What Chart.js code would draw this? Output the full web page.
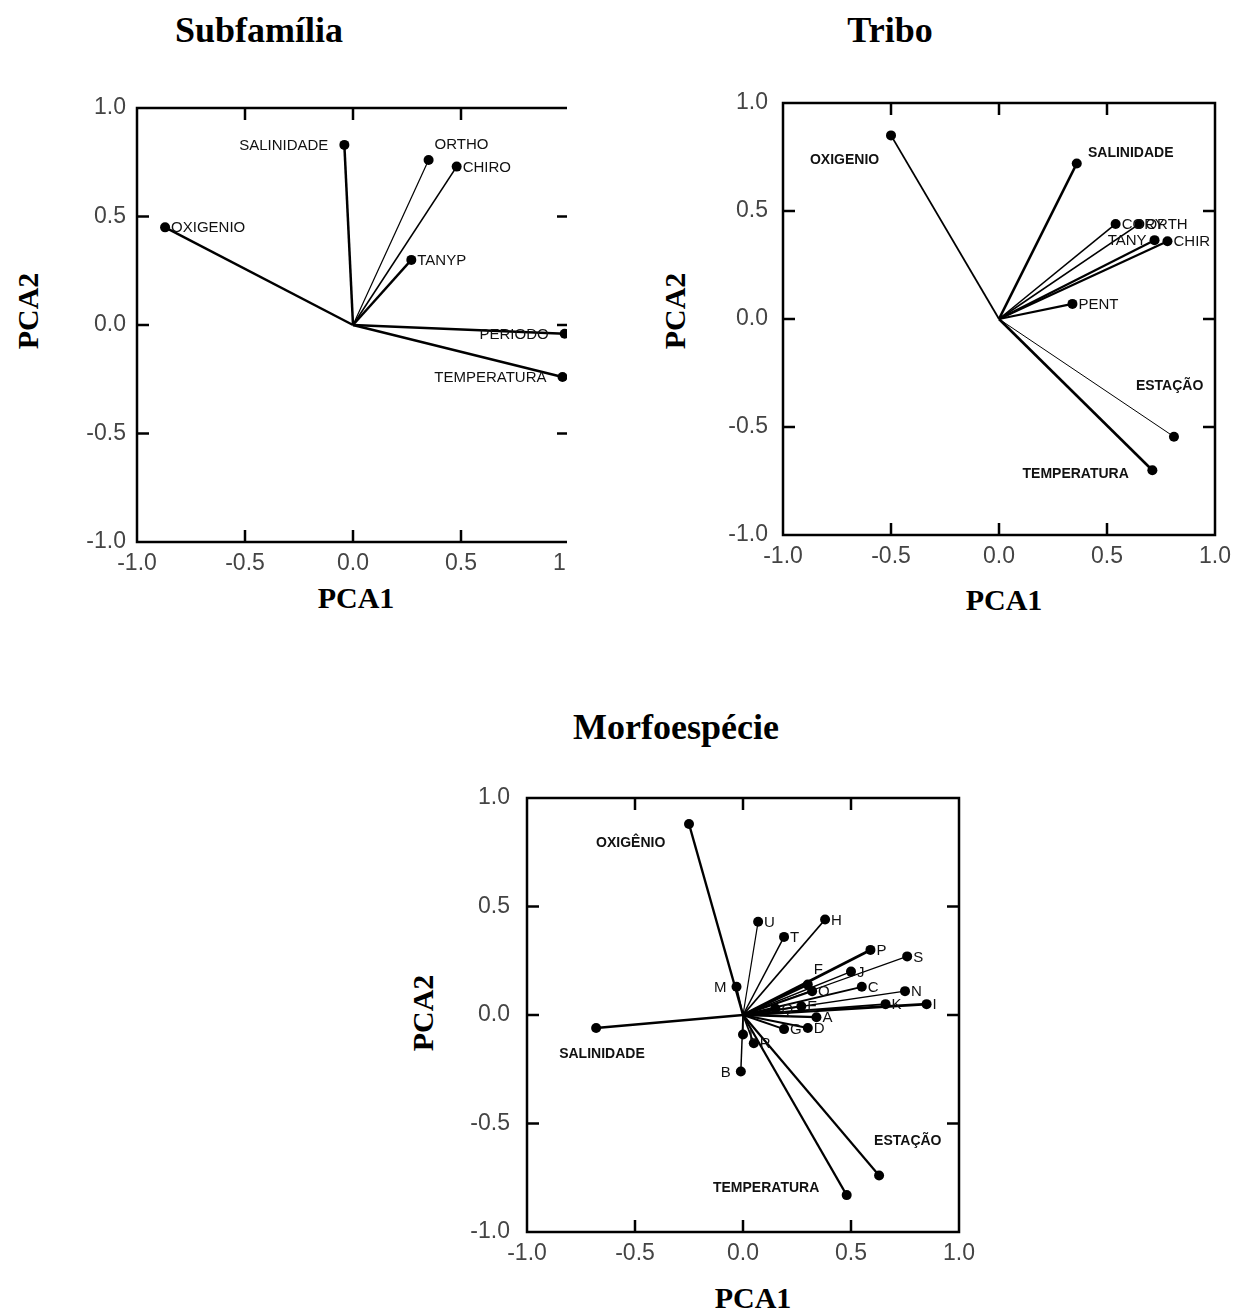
<!DOCTYPE html>
<html>
<head>
<meta charset="utf-8">
<script src="https://cdn.jsdelivr.net/npm/chart.js@4.4.1/dist/chart.umd.min.js"></script>
<style>
body { margin: 0; width: 1242px; height: 1314px; background: #fff; position: relative; overflow: hidden; font-family: "Liberation Serif", "Times New Roman", serif; }
.tit { position: absolute; font-weight: bold; font-size: 36px; transform: translate(-50%, -50%); white-space: nowrap; }
.ax { position: absolute; font-weight: bold; font-size: 30px; transform: translate(-50%, -50%); white-space: nowrap; }
.ax.v { transform: translate(-50%, -50%) rotate(-90deg); }
.box { position: absolute; overflow: hidden; }
</style>
</head>
<body>
<div class="tit" style="left:259px;top:30px">Subfamília</div>
<div class="tit" style="left:890px;top:30px">Tribo</div>
<div class="tit" style="left:676px;top:727px">Morfoespécie</div>

<div class="ax v" style="left:28px;top:311px">PCA2</div>
<div class="ax" style="left:356px;top:598px">PCA1</div>
<div class="ax v" style="left:675px;top:311px">PCA2</div>
<div class="ax" style="left:1004px;top:600px">PCA1</div>
<div class="ax v" style="left:423px;top:1013px">PCA2</div>
<div class="ax" style="left:753px;top:1298px">PCA1</div>

<div class="box" style="left:0;top:60px;width:567px;height:540px"><canvas id="c1" width="600" height="540"></canvas></div>
<div class="box" style="left:620px;top:60px;width:622px;height:540px"><canvas id="c2" width="622" height="540"></canvas></div>
<div class="box" style="left:400px;top:760px;width:620px;height:520px"><canvas id="c3" width="620" height="520"></canvas></div>

<script>
// Eixos
const valoresEixo = [-1, -0.5, 0, 0.5, 1];

// Subfamília
const subNomes = ['OXIGENIO', 'SALINIDADE', 'ORTHO', 'CHIRO', 'TANYP', 'PERIODO', 'TEMPERATURA'];
const subPca1 = [-0.87, -0.04, 0.35, 0.48, 0.27, 0.98, 0.97];
const subPca2 = [0.45, 0.83, 0.76, 0.73, 0.30, -0.04, -0.24];

// Tribo
const triNomes = ['OXIGENIO', 'SALINIDADE', 'CORY', 'ORTH', 'TANY', 'CHIR', 'PENT', 'ESTAÇÃO', 'TEMPERATURA'];
const triPca1 = [-0.50, 0.36, 0.54, 0.65, 0.72, 0.78, 0.34, 0.81, 0.71];
const triPca2 = [0.85, 0.72, 0.44, 0.44, 0.365, 0.36, 0.07, -0.545, -0.70];

// Morfoespécie
const morNomes = ['OXIGÊNIO', 'SALINIDADE', 'TEMPERATURA', 'ESTAÇÃO',
    'A', 'B', 'C', 'D', 'E', 'F', 'G', 'H', 'I', 'J', 'K', 'L', 'M', 'N', 'O', 'P', 'Q', 'R', 'S', 'T', 'U'];
const morPca1 = [-0.25, -0.68, 0.48, 0.63,
    0.34, -0.01, 0.55, 0.30, 0.27, 0.30, 0.19, 0.38, 0.85, 0.50, 0.66, 0.00, -0.03, 0.75, 0.32, 0.59, 0.15, 0.05, 0.76, 0.19, 0.07];
const morPca2 = [0.88, -0.06, -0.83, -0.74,
    -0.01, -0.26, 0.13, -0.06, 0.04, 0.14, -0.065, 0.44, 0.05, 0.20, 0.05, -0.09, 0.13, 0.11, 0.11, 0.30, 0.03, -0.13, 0.27, 0.36, 0.43];

// Posição dos rótulos: r = direita, l = esquerda, ar = acima à direita, c = posição livre
const subLados = ['r', 'l', 'ar', 'r', 'r', 'l', 'l'];
const triLados = ['c', 'c', 'r', 'r', 'l', 'r', 'r', 'c', 'c'];
const triRotX = [-0.715, 0.61, null, null, null, null, null, 0.79, 0.355];
const triRotY = [0.737, 0.77, null, null, null, null, null, -0.31, -0.72];
const morLados = ['c', 'c', 'c', 'c',
    'r', 'l', 'r', 'r', 'r', 'ar', 'r', 'r', 'r', 'r', 'r', 'r', 'l', 'r', 'r', 'r', 'r', 'r', 'r', 'r', 'r'];
const morRotX = [-0.52, -0.653, 0.107, 0.763];
const morRotY = [0.79, -0.18, -0.80, -0.58];

// Espessura das linhas
const subLarg = [2.5, 2.5, 1.2, 1.6, 2.4, 2.5, 2.5];
const triLarg = [1.8, 2.6, 1.6, 1.6, 2.2, 2.2, 2.2, 1, 2.6];
const morLarg = [2.4, 2.6, 2.2, 2.2,
    2.4, 1.5, 1.8, 2, 2, 2.4, 2, 1.8, 2.8, 1.5, 1.8, 1.5, 1.5, 1.5, 2, 2.8, 2, 1.8, 1.2, 1.5, 1.2];

// Moldura com marcas internas
const moldura = {
    id: 'moldura',
    afterDraw(chart) {
        const { ctx, chartArea: a } = chart;
        const sx = chart.scales.x, sy = chart.scales.y;
        ctx.save();
        ctx.strokeStyle = '#000';
        ctx.lineWidth = 2.5;
        ctx.strokeRect(a.left, a.top, a.right - a.left, a.bottom - a.top);
        const linha = (x1, y1, x2, y2) => {
            ctx.beginPath(); ctx.moveTo(x1, y1); ctx.lineTo(x2, y2); ctx.stroke();
        };
        valoresEixo.slice(1, -1).forEach(v => {
            const px = sx.getPixelForValue(v), py = sy.getPixelForValue(v);
            linha(px, a.top, px, a.top + 12);
            linha(px, a.bottom, px, a.bottom - 12);
            linha(a.left, py, a.left + 12, py);
            linha(a.right, py, a.right - 12, py);
        });
        ctx.restore();
    }
};

// Rótulos das variáveis
const rotulos = {
    id: 'rotulos',
    afterDatasetsDraw(chart, args, o) {
        const ctx = chart.ctx;
        ctx.save();
        ctx.fillStyle = '#111';
        ctx.textBaseline = 'middle';
        o.nomes.forEach((nome, i) => {
            const lado = o.lados[i];
            if (lado === 'c') {
                ctx.font = 'bold 14px "Liberation Sans", Arial, sans-serif';
                ctx.textAlign = 'center';
                ctx.fillText(nome, chart.scales.x.getPixelForValue(o.rotX[i]), chart.scales.y.getPixelForValue(o.rotY[i]));
                return;
            }
            const pt = chart.getDatasetMeta(i).data[1];
            ctx.font = o.fonte;
            if (lado === 'r') {
                ctx.textAlign = 'left';
                ctx.fillText(nome, pt.x + 6, pt.y + 1);
            } else if (lado === 'l') {
                ctx.textAlign = 'right';
                ctx.fillText(nome, pt.x - o.folgaEsq, pt.y + 1);
            } else if (lado === 'ar') {
                ctx.textAlign = 'left';
                ctx.fillText(nome, pt.x + 6, pt.y - 15);
            }
        });
        ctx.restore();
    }
};

function montarGrafico(id, caixa, nomes, pca1, pca2, larguras, rot) {
    const datasets = nomes.map((n, i) => ({
        data: [{ x: 0, y: 0 }, { x: pca1[i], y: pca2[i] }],
        showLine: true,
        borderColor: '#000',
        borderWidth: larguras[i],
        pointRadius: [0, 5],
        pointBackgroundColor: '#000',
        pointBorderWidth: 0,
        clip: false
    }));
    const fonteEixo = { family: '"Liberation Sans", Arial, sans-serif', size: 23 };
    new Chart(document.getElementById(id), {
        type: 'scatter',
        data: { datasets },
        options: {
            responsive: false,
            animation: false,
            layout: { padding: caixa.padding },
            plugins: {
                legend: { display: false },
                tooltip: { enabled: false },
                rotulos: rot
            },
            scales: {
                x: {
                    min: -1, max: 1,
                    grid: { display: false },
                    border: { display: false },
                    ticks: { stepSize: 0.5, padding: 0, color: '#444', font: fonteEixo, maxRotation: 0, callback: v => v.toFixed(1) },
                    afterFit(s) { s.height = 40; }
                },
                y: {
                    min: -1, max: 1,
                    grid: { display: false },
                    border: { display: false },
                    ticks: { stepSize: 0.5, padding: caixa.yPad, color: '#444', font: fonteEixo, callback: v => v.toFixed(1) },
                    afterFit(s) { s.width = caixa.yw; }
                }
            }
        },
        plugins: [moldura, rotulos]
    });
}

montarGrafico('c1', { yw: 137, yPad: 3, padding: { left: 0, top: 48, right: 31, bottom: 18 } },
    subNomes, subPca1, subPca2, subLarg,
    { nomes: subNomes, lados: subLados, fonte: '15px "Liberation Sans", Arial, sans-serif', folgaEsq: 16 });

montarGrafico('c2', { yw: 60, yPad: 7, padding: { left: 103, top: 43, right: 27, bottom: 25 } },
    triNomes, triPca1, triPca2, triLarg,
    { nomes: triNomes, lados: triLados, rotX: triRotX, rotY: triRotY, fonte: '15px "Liberation Sans", Arial, sans-serif', folgaEsq: 8 });

montarGrafico('c3', { yw: 60, yPad: 9, padding: { left: 67, top: 38, right: 61, bottom: 8 } },
    morNomes, morPca1, morPca2, morLarg,
    { nomes: morNomes, lados: morLados, rotX: morRotX, rotY: morRotY, fonte: '15px "Liberation Sans", Arial, sans-serif', folgaEsq: 10 });
</script>
</body>
</html>
